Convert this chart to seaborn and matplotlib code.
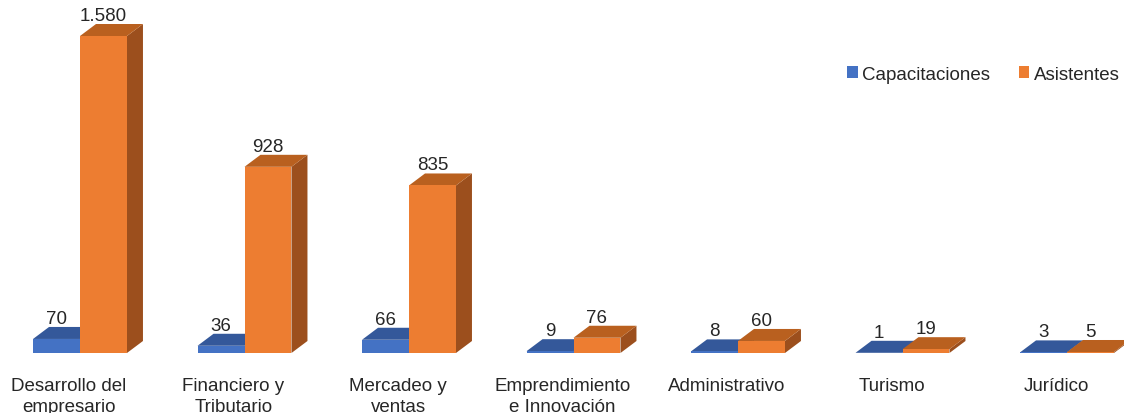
import matplotlib
matplotlib.use("Agg")
import matplotlib.pyplot as plt
import matplotlib.transforms as mtransforms
from matplotlib.patches import Polygon, Patch
import seaborn as sns
import pandas as pd

categories = ["Desarrollo del\nempresario", "Financiero y\nTributario", "Mercadeo y\nventas",
              "Emprendimiento\ne Innovación", "Administrativo", "Turismo", "Jurídico"]
capacitaciones = [70, 36, 66, 9, 8, 1, 3]
asistentes = [1580, 928, 835, 76, 60, 19, 5]
series_names = ["Capacitaciones", "Asistentes"]

front_colors = {"Capacitaciones": "#4472C4", "Asistentes": "#ED7D31"}
top_colors = {"Capacitaciones": "#34589A", "Asistentes": "#B9601F"}
side_colors = {"Capacitaciones": "#2E4F8C", "Asistentes": "#9C4F1D"}

df = pd.DataFrame({
    "categoria": categories * 2,
    "serie": [series_names[0]] * len(categories) + [series_names[1]] * len(categories),
    "valor": capacitaciones + asistentes,
})

sns.set_theme(style="white")
plt.rcParams["font.family"] = ["Liberation Sans", "DejaVu Sans"]

W, H = 1124, 414
fig = plt.figure(figsize=(W / 100, H / 100), dpi=100)
base_px = 354
ax = fig.add_axes([0, (H - base_px) / H, 1, base_px / H])

sns.barplot(data=df, x="categoria", y="valor", hue="serie", order=categories,
            hue_order=series_names, palette=front_colors, width=0.571,
            saturation=1, ax=ax, legend=False, zorder=3)

spacing_px = 164.5
first_center_px = 80
ax.set_xlim(-first_center_px / spacing_px, (W - first_center_px) / spacing_px)
px_per_unit = 317 / 1580
ax.set_ylim(0, base_px / px_per_unit)

dx = 16 / spacing_px
dy = 12 / px_per_unit

FS = 13.5
n = len(categories)
patches = list(ax.patches)
for si, name in enumerate(series_names):
    for ci in range(n):
        p = patches[si * n + ci]
        x0 = p.get_x()
        w = p.get_width()
        h = p.get_height()
        x1 = x0 + w
        z = 2 + si * 3
        side = Polygon([(x1, 0), (x1 + dx, dy), (x1 + dx, h + dy), (x1, h)],
                       closed=True, facecolor=side_colors[name], edgecolor="none", zorder=z)
        top = Polygon([(x0, h), (x1, h), (x1 + dx, h + dy), (x0 + dx, h + dy)],
                      closed=True, facecolor=top_colors[name], edgecolor="none", zorder=z + 1)
        ax.add_patch(side)
        ax.add_patch(top)
        p.set_zorder(z + 2)
        p.set_edgecolor("none")
        label = f"{int(h):,}".replace(",", ".")
        ax.text(x0 + w / 2, h + dy, label, ha="center", va="bottom",
                fontsize=FS, color="#262626", zorder=10)

for s in ax.spines.values():
    s.set_visible(False)
ax.set_yticks([])
ax.set_xlabel("")
ax.set_ylabel("")
ax.tick_params(axis="x", length=0, pad=17, labelsize=FS, labelcolor="#262626")
shift = mtransforms.ScaledTranslation(-11 / 100, 0, fig.dpi_scale_trans)
for lab in ax.get_xticklabels():
    lab.set_transform(lab.get_transform() + shift)
    lab.set_linespacing(1.3)

handles = [Patch(facecolor=front_colors[nm], edgecolor="none") for nm in series_names]
ax.legend(handles, series_names, loc="center left", ncol=2, frameon=False,
          bbox_to_anchor=(838 / W, 1 - 75 / H), bbox_transform=fig.transFigure,
          borderpad=0, handlelength=0.55, handleheight=0.55, handletextpad=0.25,
          columnspacing=1.5, fontsize=FS, labelcolor="#262626")

fig.savefig("out.png", dpi=100, facecolor="white")
